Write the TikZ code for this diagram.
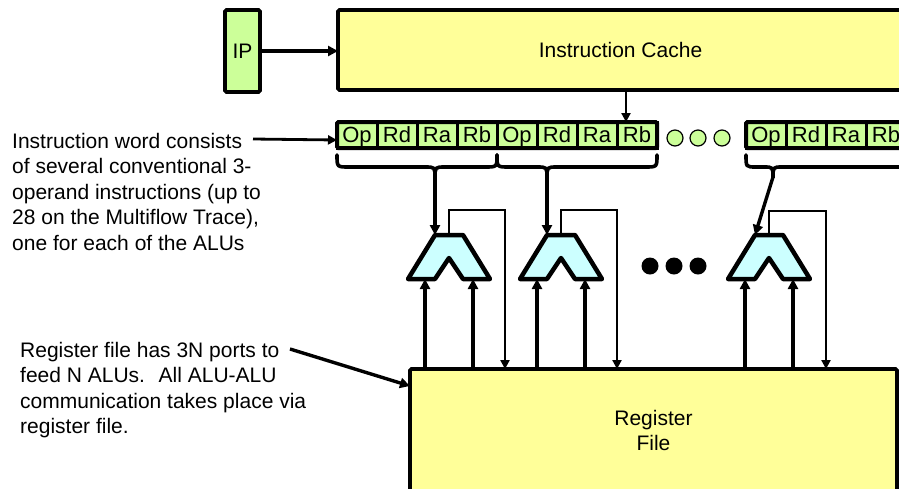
\documentclass[tikz,border=0pt]{standalone}
\usepackage{fontspec}
\setmainfont{Liberation Sans}
\usetikzlibrary{arrows.meta}
\definecolor{lgreen}{HTML}{CCFF99}
\definecolor{lyellow}{HTML}{FFFF99}
\definecolor{lcyan}{HTML}{CCFFFF}
\begin{document}
\begin{tikzpicture}[x=1pt,y=-1pt,
  txt/.style={font=\fontsize{21}{25.5}\selectfont},
  box/.style={draw, line width=3.6pt, inner sep=0pt, outer sep=0pt, rounded corners=1.5pt, txt},
  cell/.style={draw, line width=3pt, fill=lgreen, minimum width=40pt, minimum height=26pt,
    inner sep=0pt, outer sep=0pt, text height=15.5pt, text depth=0pt, font=\fontsize{22}{26}\selectfont},
  arr/.style={line width=3.4pt, -{Triangle[length=10pt,width=10pt]}},
  thinarr/.style={line width=2.8pt, -{Triangle[length=9pt,width=9pt]}},
  alushape/.style={draw, line width=4.5pt, fill=lcyan, line join=round},
  bracestyle/.style={draw, line width=3.6pt, line cap=round},
  alupic/.pic={
    \draw[alushape] (-14,0) -- (14,0) -- (41,44) -- (14,44) -- (0,23) -- (-14,44) -- (-41,44) -- cycle;
    \coordinate (-tl) at (-14,0);
    \coordinate (-top) at (0,0);
    \coordinate (-inl) at (-24,44);
    \coordinate (-inr) at (24,44);
  }]
\useasboundingbox (0,0) rectangle (899,488);
\clip (0,0) rectangle (899,488);

% IP and instruction cache
\node[box, fill=lgreen, minimum width=35pt, minimum height=82pt] (ip) at (242.5,51) {IP};
\node[box, fill=lyellow, minimum width=565pt, minimum height=80pt] (cache) at (620.5,50) {Instruction Cache};
\draw[arr] (ip.east) -- (ip.east -| cache.west);

% instruction word
\foreach \i/\t in {0/Op,1/Rd,2/Ra,3/Rb,4/Op,5/Rd,6/Ra,7/Rb}
  \node[cell] (c\i) at (357+40*\i,135) {\t};
\foreach \i/\t in {0/Op,1/Rd,2/Ra,3/Rb}
  \node[cell] (d\i) at (766+40*\i,135) {\t};
\draw[line width=4pt, rounded corners=1.5pt] (c0.north west) rectangle (c7.south east);
\draw[line width=4pt, rounded corners=1.5pt] (d0.north west) rectangle (d3.south east);
\foreach \x [count=\k] in {675,698,722}
  \node[circle, draw, line width=1.2pt, fill=lgreen, minimum size=16pt, inner sep=0pt] (o\k) at (\x,138) {};

\coordinate (cdown) at (626,90);
\coordinate (rowtop) at (626,122);
\draw[thinarr] (cdown) -- (rowtop);

% braces
\draw[bracestyle] (337,155) .. controls (337,167) .. (349,167) -- (425,167)
  .. controls (435,167) .. (435,178) .. controls (435,167) .. (445,167) -- (485,167)
  .. controls (497,167) .. (497,155);
\draw[bracestyle] (497,155) .. controls (497,167) .. (509,167) -- (537,167)
  .. controls (547,167) .. (547,178) .. controls (547,167) .. (557,167) -- (645,167)
  .. controls (657,167) .. (657,155);
\draw[bracestyle] (746,155) .. controls (746,167) .. (756,167) -- (764,167)
  .. controls (773,167) .. (773,178) .. controls (773,167) .. (782,167) -- (910,167);
\coordinate (b1) at (435,177);
\coordinate (b2) at (547,177);
\coordinate (b3) at (773,177);

% ALUs
\pic (alu1) at (449,235) {alupic};
\pic (alu2) at (561,235) {alupic};
\pic (alu3) at (769,235) {alupic};
\draw[arr] (b1) -- (alu1-tl);
\draw[arr] (b2) -- (alu2-tl);
\draw[arr] (b3) -- (alu3-tl);

\foreach \x [count=\k] in {650,674,698}
  \node[circle, fill=black, minimum size=17pt, inner sep=0pt] (bd\k) at (\x,266) {};

% register file
\node[box, fill=lyellow, minimum width=487pt, minimum height=123pt, align=center] (rf) at (653.5,430.5) {Register\\File};

\coordinate (fb1) at (505,210);
\coordinate (fb2) at (617,210);
\coordinate (fb3) at (826,211);
\foreach \k in {1,2,3}{
  \draw[thinarr] (alu\k-top) |- (fb\k) -- (fb\k |- rf.north);
  \draw[arr] (alu\k-inl |- rf.north) -- (alu\k-inl);
  \draw[arr] (alu\k-inr |- rf.north) -- (alu\k-inr);
}

% notes
\node[txt, align=left, anchor=north west, inner sep=0pt] (note1) at (12,133)
  {Instruction word consists\\of several conventional 3-\\operand instructions (up to\\28 on the Multiflow Trace),\\one for each of the ALUs};
\coordinate (l1) at (253,139);
\coordinate (rowin) at (337,140);
\draw[thinarr] (l1) -- (rowin);

\node[txt, align=left, anchor=north west, inner sep=0pt] (note2) at (20,342)
  {Register file has 3N ports to\\feed N ALUs.~ All ALU-ALU\\communication takes place via\\register file.};
\coordinate (l2) at (290,349);
\coordinate (rfin) at (410,386);
\draw[arr] (l2) -- (rfin);
\end{tikzpicture}
\end{document}
